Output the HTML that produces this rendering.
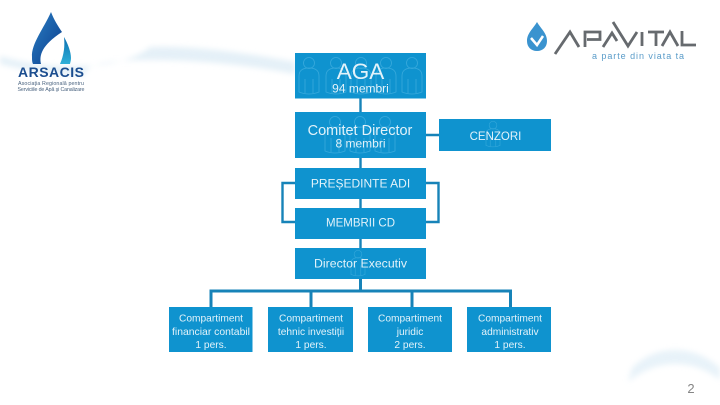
<!DOCTYPE html>
<html><head><meta charset="utf-8"><style>
html,body{margin:0;padding:0;background:#fff}
svg{display:block}
text{font-family:"Liberation Sans",sans-serif;fill:#f2fafd;fill-opacity:.93;text-anchor:middle}
</style></head><body>
<svg width="720" height="405" viewBox="0 0 720 405" xmlns="http://www.w3.org/2000/svg">
<defs>
<filter id="b" x="-10%" y="-50%" width="120%" height="200%"><feGaussianBlur stdDeviation="3"/></filter>
<linearGradient id="d" x1="0" y1="0" x2="1" y2="1"><stop offset="0" stop-color="#2a7fc4"/><stop offset="1" stop-color="#0c3d8c"/></linearGradient>
<linearGradient id="d2" x1="0" y1="0" x2="0" y2="1"><stop offset="0" stop-color="#0b6fb0"/><stop offset="1" stop-color="#2fb0d8"/></linearGradient>
<g id="p" fill="none" stroke="#4fb6e3" stroke-width=".8" opacity=".65"><circle cx="0" cy="-14" r="5.500"/><path d="M-10 15V-1q0-8 10-8t10 8V15q-10 4-20 0ZM-4 16V2M4 16V2"/></g>
</defs>
<rect width="720" height="405" fill="#fff"/>
<path d="M0 56Q40 68 85 66T150 47Q205 45 295 62L295 74Q220 60 150 60T85 76Q40 74 0 64Z" fill="#dcebf5" opacity=".75" filter="url(#b)"/>
<path d="M628 382Q650 364 675 364T720 380V368Q700 350 675 350T632 368Z" fill="#d5e8f4" opacity=".55" filter="url(#b)"/>
<path d="M51 12C44 28 31 44 32 57C32 60 32 62 33 64H41C39 55 42 45 62 32C58 26 54 20 51 12Z" fill="url(#d)"/>
<path d="M64 37C68 44 71 52 71 58C71 61 70 63 70 64H60C64 55 65 46 64 37Z" fill="url(#d2)"/>
<text x="51" y="77" font-size="14" font-weight="700" textLength="66" style="fill:#1b4d8f;fill-opacity:1">ARSACIS</text>
<text x="51" y="85" font-size="5.300" textLength="66" style="fill:#4b6480;fill-opacity:1">Asociaţia Regională pentru</text>
<text x="51" y="91" font-size="5.300" textLength="67" style="fill:#4b6480;fill-opacity:1">Serviciile de Apă şi Canalizare</text>
<path d="M537 22C533 29 527 33 527 41C527 47 531 51 537 51C543 51 547 47 547 41C547 33 541 29 537 22Z" fill="#3a93cf"/>
<path d="M531 38L537 45L543 36" fill="none" stroke="#fff" stroke-width="2.500"/>
<g fill="none" stroke="#666a6e" stroke-width="2.800"><path d="M555 54L570 32L579 47"/><path d="M585 47V32H600V39.500H587"/><path d="M603 47L612 33L617 41"/><path d="M613 22L628 46L637 32"/><path d="M642 32V46"/><path d="M648 32H664M656 32V46"/><path d="M662 46L670 32L678 46"/><path d="M682 31V45H696"/></g>
<text x="638.500" y="59" font-size="9" letter-spacing=".95" style="fill:#5a9cc9;fill-opacity:1">a parte din viata ta</text>
<g fill="none" stroke="#1783b8" stroke-width="2.400"><path d="M360.500 98V112M360.500 158V168M360.500 199V208M360.500 239V248M426 135H439"/><path d="M295 183H282.500V222H295M426 183H438.500V222H426"/></g>
<g fill="none" stroke="#1783b8" stroke-width="3"><path d="M360.500 279V291M211 307V291H510.500V307M311 291V307M412 291V307"/></g>
<g fill="#0f93cf">
<rect x="295" y="53" width="131" height="45.500"/><rect x="295" y="112" width="131" height="46"/><rect x="439" y="119" width="112" height="32"/>
<rect x="295" y="168" width="131" height="31"/><rect x="295" y="208" width="131" height="31"/><rect x="295" y="248" width="131" height="31"/>
<rect x="169" y="307" width="83.500" height="45"/><rect x="268" y="307" width="85" height="45"/><rect x="368" y="307" width="84" height="45"/><rect x="467" y="307" width="84" height="45"/>
</g>
<use href="#p" x="309" y="77"/><use href="#p" x="336" y="77"/><use href="#p" x="361" y="77"/><use href="#p" x="386" y="77"/><use href="#p" x="412" y="77"/>
<use href="#p" x="335" y="136"/><use href="#p" x="360" y="136"/><use href="#p" x="385" y="136"/>
<use href="#p" transform="translate(493 135) scale(.7)"/>
<use href="#p" transform="translate(358 264) scale(.7)"/>
<text x="360.500" y="79" font-size="22.500">AGA</text>
<text x="360.500" y="92.500" font-size="12">94 membri</text>
<text x="360" y="135" font-size="14.500">Comitet Director</text>
<text x="360.500" y="147.500" font-size="12">8 membri</text>
<text x="495.500" y="140" font-size="11.500">CENZORI</text>
<text x="360.500" y="187.500" font-size="12">PREȘEDINTE ADI</text>
<text x="360.500" y="226.500" font-size="11.500">MEMBRII CD</text>
<text x="360.500" y="267.500" font-size="12.300">Director Executiv</text>
<g font-size="10.200">
<text x="211" y="321.500">Compartiment</text><text x="211" y="335" font-size="10.400">financiar contabil</text><text x="211" y="348">1 pers.</text>
<text x="311" y="321.500">Compartiment</text><text x="311" y="335">tehnic investiții</text><text x="311" y="348">1 pers.</text>
<text x="410" y="321.500">Compartiment</text><text x="410" y="335">juridic</text><text x="410" y="348">2 pers.</text>
<text x="510" y="321.500">Compartiment</text><text x="510" y="335">administrativ</text><text x="510" y="348">1 pers.</text>
</g>
<text x="691" y="393" font-size="13" style="fill:#858585;fill-opacity:1">2</text>
</svg>
</body></html>
